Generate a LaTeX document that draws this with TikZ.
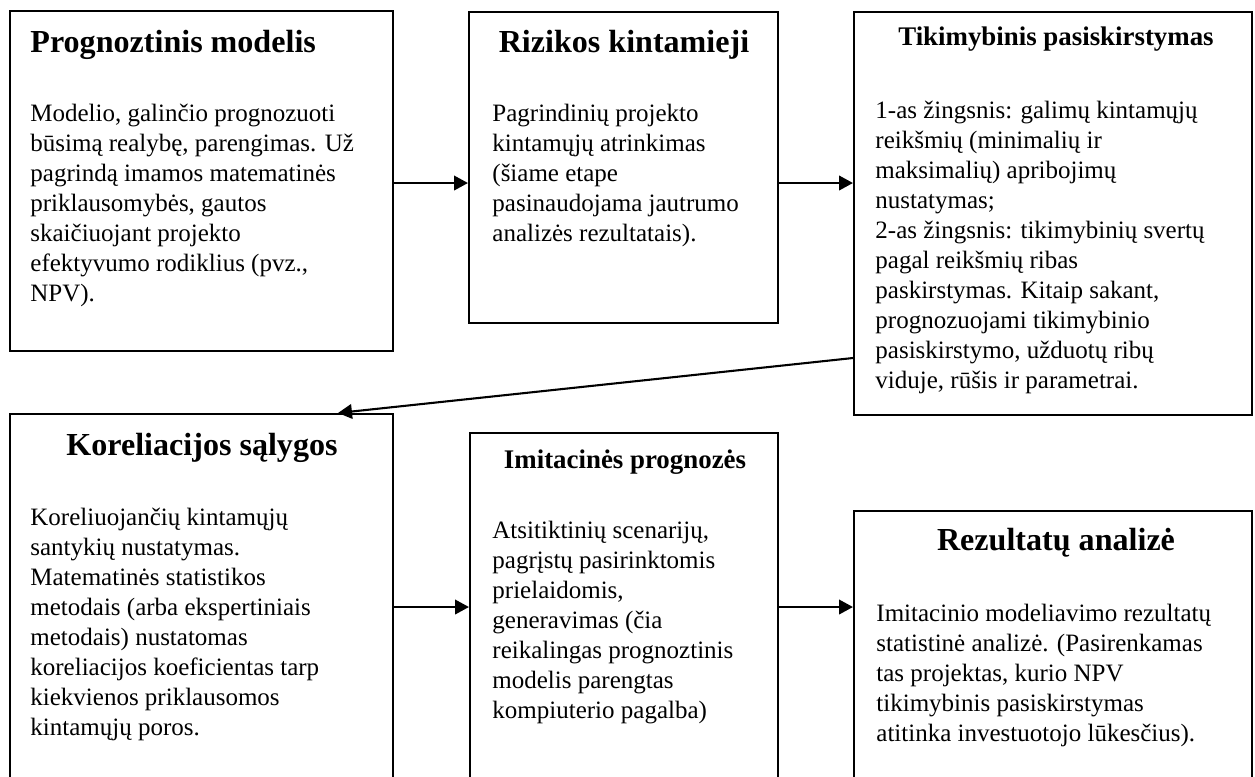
\documentclass[tikz,border=0pt]{standalone}
\usepackage{fontspec}
\setmainfont{Liberation Serif}
\usetikzlibrary{arrows.meta}
\usetikzlibrary{fit}
\tikzset{
  stagebox/.style = {draw=black, line width=1pt, inner sep=0pt},% ramka
  bigtitle/.style = {inner sep=0pt, font=\fontsize{15.4}{18}\selectfont\bfseries},
  smalltitle/.style = {inner sep=0pt, font=\fontsize{12.9}{15}\selectfont\bfseries},
  stagetext/.style = {inner sep=0pt, align=left, anchor=north west,
    font=\fontsize{12}{14.4}\selectfont},% aprasymas
  flow/.style = {line width=1pt, -{Triangle[length=6.7pt, width=7pt]}}
}
\begin{document}
\begin{tikzpicture}[x=0.48pt, y=-0.48pt]
  \clip (0,0) rectangle (1255,776);
  % virsutine eile
  \node [stagebox, fit={(10,11) (393,351)}] (model) {};
  \node [stagebox, fit={(469,12) (778,323)}] (vars) {};
  \node [stagebox, fit={(854,12) (1252,415)}] (dist) {};
  % apatine eile
  \node [stagebox, fit={(10,414) (393,800)}] (corr) {};
  \node [stagebox, fit={(470,433) (778,800)}] (sim) {};
  \node [stagebox, fit={(854,511) (1252,800)}] (res) {};

  \node [bigtitle, anchor=base west] (modelT) at (30,52) {Prognoztinis modelis};
  \node [bigtitle, anchor=base] (varsT) at (624,52) {Rizikos kintamieji};
  \node [smalltitle, anchor=base] (distT) at (1056,45) {Tikimybinis pasiskirstymas};
  \node [bigtitle, anchor=base] (corrT) at (202,455) {Koreliacijos sąlygos};
  \node [smalltitle, anchor=base] (simT) at (625,468) {Imitacinės prognozės};
  \node [bigtitle, anchor=base] (resT) at (1056,550) {Rezultatų analizė};

  \node [stagetext] (modelX) at (30,100) {\strut Modelio, galinčio prognozuoti\\
    būsimą realybę, parengimas. Už\\ pagrindą imamos matematinės\\
    priklausomybės, gautos\\ skaičiuojant projekto\\
    efektyvumo rodiklius (pvz.,\\ NPV).};
  \node [stagetext] (varsX) at (492,100) {\strut Pagrindinių projekto\\
    kintamųjų atrinkimas\\ (šiame etape\\ pasinaudojama jautrumo\\
    analizės rezultatais).};
  \node [stagetext] (distX) at (875,97) {\strut 1-as žingsnis: galimų kintamųjų\\
    reikšmių (minimalių ir\\ maksimalių) apribojimų\\ nustatymas;\\
    2-as žingsnis: tikimybinių svertų\\ pagal reikšmių ribas\\
    paskirstymas. Kitaip sakant,\\ prognozuojami tikimybinio\\
    pasiskirstymo, užduotų ribų\\ viduje, rūšis ir parametrai.};
  \node [stagetext] (corrX) at (30,504) {\strut Koreliuojančių kintamųjų\\
    santykių nustatymas.\\ Matematinės statistikos\\
    metodais (arba ekspertiniais\\ metodais) nustatomas\\
    koreliacijos koeficientas tarp\\ kiekvienos priklausomos\\
    kintamųjų poros.};
  \node [stagetext] (simX) at (492,517) {\strut Atsitiktinių scenarijų,\\
    pagrįstų pasirinktomis\\ prielaidomis,\\ generavimas (čia\\
    reikalingas prognoztinis\\ modelis parengtas\\
    kompiuterio pagalba)};
  \node [stagetext] (resX) at (876,600) {\strut Imitacinio modeliavimo rezultatų\\
    statistinė analizė. (Pasirenkamas\\ tas projektas, kurio NPV\\
    tikimybinis pasiskirstymas\\ atitinka investuotojo lūkesčius).};

  % rodykles
  \draw [flow] (model.east |- 0,183) -- (vars.west |- 0,183);
  \draw [flow] (vars.east |- 0,183) -- (dist.west |- 0,183);
  \draw [flow] (dist.west |- 0,358) -- (338,0 |- corr.north);
  \draw [flow] (corr.east |- 0,607) -- (sim.west |- 0,607);
  \draw [flow] (sim.east |- 0,607) -- (res.west |- 0,607);
\end{tikzpicture}
\end{document}
